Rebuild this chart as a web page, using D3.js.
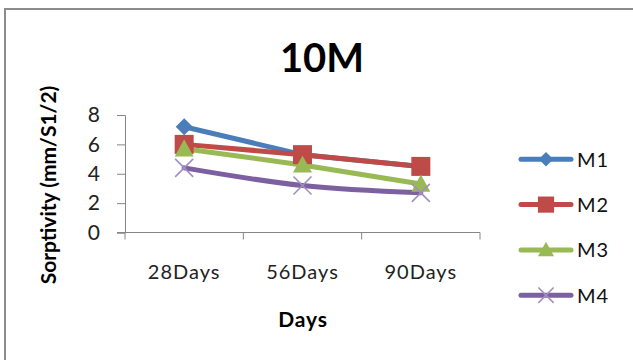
<!DOCTYPE html>
<html>
<head>
<meta charset="utf-8">
<script src="https://cdn.jsdelivr.net/npm/d3@7"></script>
<style>
  html, body { margin: 0; padding: 0; background: #fff; }
  svg { display: block; font-family: Lato, "Open Sans", sans-serif; }
</style>
</head>
<body>
<svg id="chart" width="633" height="360"></svg>
<script>
// Sorptivity of 10M mixes over curing age
const categories = ["28Days", "56Days", "90Days"];
const m1 = [7.2, 5.3, 4.5];
const m2 = [6.0, 5.3, 4.5];
const m3 = [5.7, 4.6, 3.3];
const m4 = [4.4, 3.2, 2.7];
const seriesNames = ["M1", "M2", "M3", "M4"];
const seriesColors = ["#4a7ebb", "#be4b48", "#98b954", "#7d60a0"];
const seriesMarkers = ["diamond", "square", "triangle", "cross"];
const yTicks = [0, 2, 4, 6, 8];

const series = [m1, m2, m3, m4].map((values, i) => ({
  name: seriesNames[i], values, color: seriesColors[i], marker: seriesMarkers[i]
}));

const svg = d3.select("#chart");

// outer frame
svg.append("rect")
  .attr("x", 5).attr("y", 9).attr("width", 640).attr("height", 360)
  .attr("fill", "none").attr("stroke", "#8c8c8c").attr("stroke-width", 2);

const plot = { left: 125, right: 480, top: 115, bottom: 232.5 };

const x = d3.scaleBand().domain(categories).range([plot.left, plot.right]);
const y = d3.scaleLinear().domain([0, 8]).range([plot.bottom, plot.top]);

// y axis
const yAxis = svg.append("g")
  .attr("transform", `translate(${plot.left},0)`)
  .call(d3.axisLeft(y).tickValues(yTicks).tickSize(8).tickPadding(17));
yAxis.select(".domain").attr("stroke", "#868686");
yAxis.selectAll(".tick line").attr("stroke", "#868686");
yAxis.selectAll(".tick text")
  .attr("font-size", 21).attr("fill", "#222").attr("font-family", "Lato, sans-serif");

// x axis with ticks between categories
const xAxisG = svg.append("g").attr("transform", `translate(0,${plot.bottom})`);
xAxisG.append("line")
  .attr("x1", plot.left - 8).attr("x2", plot.right)
  .attr("y1", 0).attr("y2", 0)
  .attr("stroke", "#868686");
const boundaries = categories.map(c => x(c)).concat([plot.right]);
xAxisG.selectAll("line.tk").data(boundaries).enter().append("line")
  .attr("class", "tk")
  .attr("x1", d => d).attr("x2", d => d)
  .attr("y1", 0).attr("y2", 7)
  .attr("stroke", "#868686");
xAxisG.selectAll("text").data(categories).enter().append("text")
  .attr("x", d => x(d) + x.bandwidth() / 2)
  .attr("y", 46)
  .attr("text-anchor", "middle")
  .attr("font-size", 20).attr("letter-spacing", 1).attr("fill", "#222")
  .text(d => d);

const cx = c => x(c) + x.bandwidth() / 2;

// lines
series.forEach(s => {
  const line = d3.line()
    .x((d, i) => cx(categories[i]))
    .y(d => y(d))
    .curve(s.name === "M4" ? d3.curveCatmullRom.alpha(0.5) : d3.curveLinear);
  svg.append("path")
    .datum(s.values)
    .attr("d", line)
    .attr("fill", "none")
    .attr("stroke", s.color)
    .attr("stroke-width", 5)
    .attr("stroke-linejoin", "round")
    .attr("stroke-linecap", "round");
});

function drawMarker(g, type, color, px, py, scale) {
  const k = scale || 1;
  if (type === "diamond") {
    const r = 8.5 * k;
    g.append("path")
      .attr("d", `M${px},${py - r}L${px + r},${py}L${px},${py + r}L${px - r},${py}Z`)
      .attr("fill", color);
  } else if (type === "square") {
    const h = 9.5 * k;
    g.append("rect")
      .attr("x", px - h).attr("y", py - h)
      .attr("width", 2 * h).attr("height", 2 * h)
      .attr("fill", color);
  } else if (type === "triangle") {
    const h = 9.5 * k;
    g.append("path")
      .attr("d", `M${px},${py - h}L${px + h},${py + h * 0.8}L${px - h},${py + h * 0.8}Z`)
      .attr("fill", color);
  } else {
    const h = 9 * k;
    g.append("path")
      .attr("d", `M${px - h},${py - h}L${px + h},${py + h}M${px + h},${py - h}L${px - h},${py + h}`)
      .attr("stroke", "#a28fc0").attr("stroke-width", 1.6).attr("fill", "none");
  }
}

// markers
series.forEach(s => {
  const g = svg.append("g");
  s.values.forEach((v, i) => drawMarker(g, s.marker, s.color, cx(categories[i]), y(v)));
});

// title
svg.append("text")
  .attr("x", 322).attr("y", 72)
  .attr("text-anchor", "middle")
  .attr("font-size", 40).attr("font-weight", "bold").attr("fill", "#000")
  .text("10M");

// axis titles
svg.append("text")
  .attr("transform", "translate(56,185) rotate(-90)")
  .attr("text-anchor", "middle")
  .attr("font-size", 21).attr("font-weight", "bold").attr("fill", "#000")
  .text("Sorptivity (mm/S1/2)");

svg.append("text")
  .attr("x", 303).attr("y", 327)
  .attr("text-anchor", "middle")
  .attr("font-size", 21).attr("font-weight", "bold").attr("letter-spacing", 0.8).attr("fill", "#000")
  .text("Days");

// legend
const legend = svg.append("g");
series.forEach((s, i) => {
  const ly = 159.3 + i * 45.3;
  legend.append("line")
    .attr("x1", 521).attr("x2", 571).attr("y1", ly).attr("y2", ly)
    .attr("stroke", s.color).attr("stroke-width", 5).attr("stroke-linecap", "round");
  drawMarker(legend, s.marker, s.color, 546, ly, 0.85);
  legend.append("text")
    .attr("x", 577).attr("y", ly + 7.5)
    .attr("font-size", 20).attr("letter-spacing", 1).attr("fill", "#111")
    .text(s.name);
});
</script>
</body>
</html>
